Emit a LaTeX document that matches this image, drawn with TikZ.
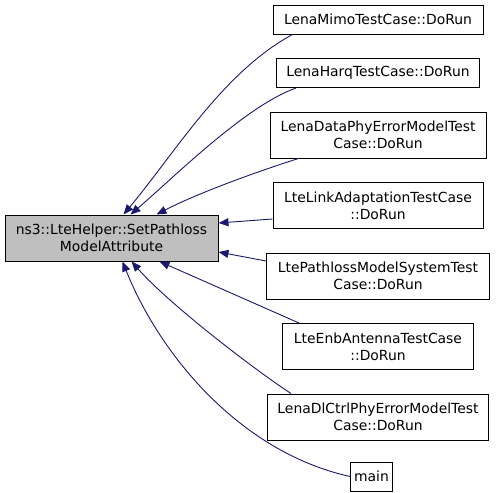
\documentclass[tikz,border=0pt]{standalone}
\usepackage{fontspec}
\setmainfont{DejaVu Sans}
\usetikzlibrary{positioning,arrows.meta}
\definecolor{edgeblue}{HTML}{191970}
\definecolor{nodegray}{HTML}{BFBFBF}

\begin{document}
\begin{tikzpicture}[
    x=1pt, y=-1pt, node distance=23.5pt,
    font=\fontsize{13.9}{17}\selectfont,
    fn/.style={draw=black, fill=white, line width=1pt, align=center, inner xsep=3pt, inner ysep=2pt, minimum height=29pt},
    twoline/.style={minimum height=46pt},
    call/.style={draw=edgeblue, line width=0.9pt, -{Triangle[length=10pt,width=8pt]}}
  ]
  \useasboundingbox (0,0) rectangle (496,493);
  \node[fn, twoline, fill=nodegray, minimum width=213pt] (setpathloss) at (111.5,238) {ns3::LteHelper::SetPathloss\\ ModelAttribute};
  \node[fn, minimum width=210pt] (mimo) at (378,19.5) {LenaMimoTestCase::DoRun};
  \node[fn, minimum width=203pt, below=of mimo] (harq) {LenaHarqTestCase::DoRun};
  \node[fn, twoline, minimum width=216pt, below=of harq] (dataphy) {LenaDataPhyErrorModelTest\\ Case::DoRun};
  \node[fn, twoline, minimum width=210pt, below=of dataphy] (linkadapt) {LteLinkAdaptationTestCase\\ ::DoRun};
  \node[fn, twoline, minimum width=223pt, below=of linkadapt] (pathlosssys) {LtePathlossModelSystemTest\\ Case::DoRun};
  \node[fn, twoline, minimum width=191pt, below=of pathlosssys] (enbantenna) {LteEnbAntennaTestCase\\ ::DoRun};
  \node[fn, twoline, minimum width=221pt, below=of enbantenna] (dlctrl) {LenaDlCtrlPhyErrorModelTest\\ Case::DoRun};
  \node[fn, minimum width=42pt, below=21pt of dlctrl, xshift=-6.5pt] (mainfn) {main};

  \draw[call] ([xshift=20pt]mimo.south west) .. controls (223,72) and (175,153) .. ([xshift=119pt]setpathloss.north west);
  \draw[call] ([xshift=20pt]harq.south west) .. controls (245,106) and (171,180) .. ([xshift=126pt]setpathloss.north west);
  \draw[call] ([xshift=29pt]dataphy.south west) .. controls (262,170) and (200,192) .. ([xshift=152pt]setpathloss.north west);
  \draw[call] ([yshift=-13.5pt]linkadapt.west) -- ([yshift=15pt]setpathloss.east);
  \draw[call] ([yshift=15pt]pathlosssys.west) -- ([yshift=-14pt]setpathloss.east);
  \draw[call] ([xshift=17pt]enbantenna.north west) -- ([xshift=155pt]setpathloss.south west);
  \draw[call] ([xshift=24pt]dlctrl.north west) .. controls (255,370) and (170,305) .. ([xshift=127pt]setpathloss.south west);
  \draw[call] (mainfn.west) .. controls (240,452) and (160,355) .. ([xshift=118pt]setpathloss.south west);
\end{tikzpicture}
\end{document}
